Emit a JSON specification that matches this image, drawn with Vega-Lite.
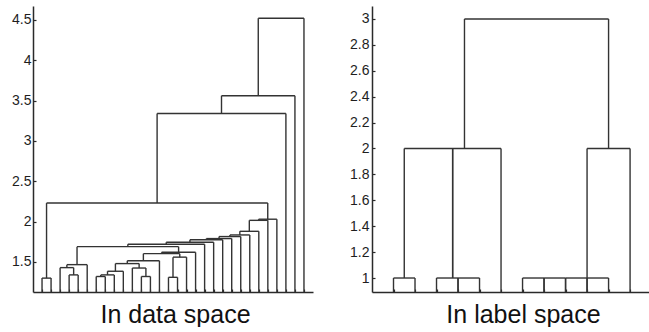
{
  "$schema": "https://vega.github.io/schema/vega-lite/v6.json",
  "padding": {"top": 6, "left": 0, "right": 0, "bottom": 0},
  "background": "white",
  "spacing": 29,
  "datasets": {
    "left": [
      {"a": 1, "b": 2, "ha": 1.128, "hb": 1.128, "h": 1.30},
      {"a": 4, "b": 5, "ha": 1.128, "hb": 1.128, "h": 1.34},
      {"a": 3, "b": 4.5, "ha": 1.128, "hb": 1.34, "h": 1.43},
      {"a": 3.75, "b": 6, "ha": 1.43, "hb": 1.128, "h": 1.467},
      {"a": 7, "b": 8, "ha": 1.128, "hb": 1.128, "h": 1.32},
      {"a": 7.5, "b": 9, "ha": 1.32, "hb": 1.128, "h": 1.34},
      {"a": 8.25, "b": 10, "ha": 1.34, "hb": 1.128, "h": 1.385},
      {"a": 12, "b": 13, "ha": 1.128, "hb": 1.128, "h": 1.32},
      {"a": 11, "b": 12.5, "ha": 1.128, "hb": 1.32, "h": 1.425},
      {"a": 9.125, "b": 11.75, "ha": 1.385, "hb": 1.425, "h": 1.48},
      {"a": 10.44, "b": 14, "ha": 1.48, "hb": 1.128, "h": 1.515},
      {"a": 15, "b": 16, "ha": 1.128, "hb": 1.128, "h": 1.31},
      {"a": 15.5, "b": 17, "ha": 1.31, "hb": 1.128, "h": 1.56},
      {"a": 12.22, "b": 16.25, "ha": 1.515, "hb": 1.56, "h": 1.603},
      {"a": 14.24, "b": 18, "ha": 1.603, "hb": 1.128, "h": 1.62},
      {"a": 4.875, "b": 16.12, "ha": 1.467, "hb": 1.62, "h": 1.69},
      {"a": 10.5, "b": 19, "ha": 1.69, "hb": 1.128, "h": 1.72},
      {"a": 14.75, "b": 20, "ha": 1.72, "hb": 1.128, "h": 1.745},
      {"a": 17.375, "b": 21, "ha": 1.745, "hb": 1.128, "h": 1.775},
      {"a": 19.19, "b": 22, "ha": 1.775, "hb": 1.128, "h": 1.79},
      {"a": 20.6, "b": 23, "ha": 1.79, "hb": 1.128, "h": 1.815},
      {"a": 21.8, "b": 24, "ha": 1.815, "hb": 1.128, "h": 1.835},
      {"a": 22.9, "b": 25, "ha": 1.835, "hb": 1.128, "h": 1.88},
      {"a": 23.95, "b": 26, "ha": 1.88, "hb": 1.128, "h": 2.016},
      {"a": 24.98, "b": 27, "ha": 2.016, "hb": 1.128, "h": 2.03},
      {"a": 1.5, "b": 25.99, "ha": 1.30, "hb": 2.03, "h": 2.23},
      {"a": 13.74, "b": 28, "ha": 2.23, "hb": 1.128, "h": 3.34},
      {"a": 20.87, "b": 29, "ha": 3.34, "hb": 1.128, "h": 3.56},
      {"a": 24.94, "b": 30, "ha": 3.56, "hb": 1.128, "h": 4.52}
    ],
    "right": [
      {"a": 1, "b": 2, "ha": 0.892, "hb": 0.892, "h": 1},
      {"a": 3, "b": 4, "ha": 0.892, "hb": 0.892, "h": 1},
      {"a": 4, "b": 5, "ha": 0.892, "hb": 0.892, "h": 1},
      {"a": 7, "b": 8, "ha": 0.892, "hb": 0.892, "h": 1},
      {"a": 8, "b": 9, "ha": 0.892, "hb": 0.892, "h": 1},
      {"a": 9, "b": 10, "ha": 0.892, "hb": 0.892, "h": 1},
      {"a": 10, "b": 11, "ha": 0.892, "hb": 0.892, "h": 1},
      {"a": 1.5, "b": 6, "ha": 1, "hb": 0.892, "h": 2},
      {"a": 3.75, "b": 3.75, "ha": 1, "hb": 1, "h": 2},
      {"a": 10, "b": 12, "ha": 1, "hb": 0.892, "h": 2},
      {"a": 4.3, "b": 11, "ha": 2, "hb": 2, "h": 3}
    ]
  },
  "hconcat": [
    {
      "width": 280,
      "height": 286,
      "data": {"name": "left"},
      "layer": [
        {
          "mark": "rule",
          "encoding": {
            "x": {"field": "a", "type": "quantitative", "scale": {"domain": [0, 31], "nice": false, "zero": false},
              "axis": {"title": "In data space", "values": [1,2,3,4,5,6,7,8,9,10,11,12,13,14,15,16,17,18,19,20,21,22,23,24,25,26,27,28,29,30], "labels": false, "tickSize": -3, "minExtent": 0, "maxExtent": 0, "titlePadding": 10, "titleX": 142}},
            "x2": {"field": "b"},
            "y": {"field": "h", "type": "quantitative", "scale": {"domain": [1.128, 4.672], "nice": false, "zero": false},
              "axis": {"title": null, "values": [1.5, 2, 2.5, 3, 3.5, 4, 4.5], "format": "~g", "tickSize": -3, "labelPadding": 5, "minExtent": 33, "maxExtent": 33}}
          }
        },
        {
          "mark": "rule",
          "encoding": {
            "x": {"field": "a", "type": "quantitative", "scale": {"domain": [0, 31], "nice": false, "zero": false},
              "axis": {"title": "In data space", "values": [1,2,3,4,5,6,7,8,9,10,11,12,13,14,15,16,17,18,19,20,21,22,23,24,25,26,27,28,29,30], "labels": false, "tickSize": -3, "minExtent": 0, "maxExtent": 0, "titlePadding": 10, "titleX": 142}},
            "y": {"field": "ha", "type": "quantitative", "scale": {"domain": [1.128, 4.672], "nice": false, "zero": false},
              "axis": {"title": null, "values": [1.5, 2, 2.5, 3, 3.5, 4, 4.5], "format": "~g", "tickSize": -3, "labelPadding": 5, "minExtent": 33, "maxExtent": 33}},
            "y2": {"field": "h"}
          }
        },
        {
          "mark": "rule",
          "encoding": {
            "x": {"field": "b", "type": "quantitative", "scale": {"domain": [0, 31], "nice": false, "zero": false},
              "axis": {"title": "In data space", "values": [1,2,3,4,5,6,7,8,9,10,11,12,13,14,15,16,17,18,19,20,21,22,23,24,25,26,27,28,29,30], "labels": false, "tickSize": -3, "minExtent": 0, "maxExtent": 0, "titlePadding": 10, "titleX": 142}},
            "y": {"field": "hb", "type": "quantitative", "scale": {"domain": [1.128, 4.672], "nice": false, "zero": false},
              "axis": {"title": null, "values": [1.5, 2, 2.5, 3, 3.5, 4, 4.5], "format": "~g", "tickSize": -3, "labelPadding": 5, "minExtent": 33, "maxExtent": 33}},
            "y2": {"field": "h"}
          }
        }
      ]
    },
    {
      "width": 277,
      "height": 286,
      "data": {"name": "right"},
      "layer": [
        {
          "mark": "rule",
          "encoding": {
            "x": {"field": "a", "type": "quantitative", "scale": {"domain": [0, 12.88], "nice": false, "zero": false},
              "axis": {"title": "In label space", "values": [1,2,3,4,5,6,7,8,9,10,11,12], "labels": false, "tickSize": -3, "minExtent": 0, "maxExtent": 0, "titlePadding": 10, "titleX": 151}},
            "x2": {"field": "b"},
            "y": {"field": "h", "type": "quantitative", "scale": {"domain": [0.892, 3.1], "nice": false, "zero": false},
              "axis": {"title": null, "values": [1, 1.2, 1.4, 1.6, 1.8, 2, 2.2, 2.4, 2.6, 2.8, 3], "format": "~g", "tickSize": -3, "labelPadding": 6, "minExtent": 30, "maxExtent": 30}}
          }
        },
        {
          "mark": "rule",
          "encoding": {
            "x": {"field": "a", "type": "quantitative", "scale": {"domain": [0, 12.88], "nice": false, "zero": false},
              "axis": {"title": "In label space", "values": [1,2,3,4,5,6,7,8,9,10,11,12], "labels": false, "tickSize": -3, "minExtent": 0, "maxExtent": 0, "titlePadding": 10, "titleX": 151}},
            "y": {"field": "ha", "type": "quantitative", "scale": {"domain": [0.892, 3.1], "nice": false, "zero": false},
              "axis": {"title": null, "values": [1, 1.2, 1.4, 1.6, 1.8, 2, 2.2, 2.4, 2.6, 2.8, 3], "format": "~g", "tickSize": -3, "labelPadding": 6, "minExtent": 30, "maxExtent": 30}},
            "y2": {"field": "h"}
          }
        },
        {
          "mark": "rule",
          "encoding": {
            "x": {"field": "b", "type": "quantitative", "scale": {"domain": [0, 12.88], "nice": false, "zero": false},
              "axis": {"title": "In label space", "values": [1,2,3,4,5,6,7,8,9,10,11,12], "labels": false, "tickSize": -3, "minExtent": 0, "maxExtent": 0, "titlePadding": 10, "titleX": 151}},
            "y": {"field": "hb", "type": "quantitative", "scale": {"domain": [0.892, 3.1], "nice": false, "zero": false},
              "axis": {"title": null, "values": [1, 1.2, 1.4, 1.6, 1.8, 2, 2.2, 2.4, 2.6, 2.8, 3], "format": "~g", "tickSize": -3, "labelPadding": 6, "minExtent": 30, "maxExtent": 30}},
            "y2": {"field": "h"}
          }
        }
      ]
    }
  ],
  "config": {
    "view": {"stroke": null},
    "axis": {"grid": false, "domainColor": "#2a2a2a", "domainWidth": 1.5, "tickColor": "#2a2a2a", "tickWidth": 1.2, "labelColor": "#1e1e1e", "labelFont": "Liberation Sans", "labelFontSize": 14, "titleFont": "Liberation Sans", "titleFontSize": 25, "titleFontWeight": "normal", "titleColor": "#111111", "titleAlign": "center"},
    "rule": {"color": "#333333", "strokeWidth": 1.4}
  }
}
